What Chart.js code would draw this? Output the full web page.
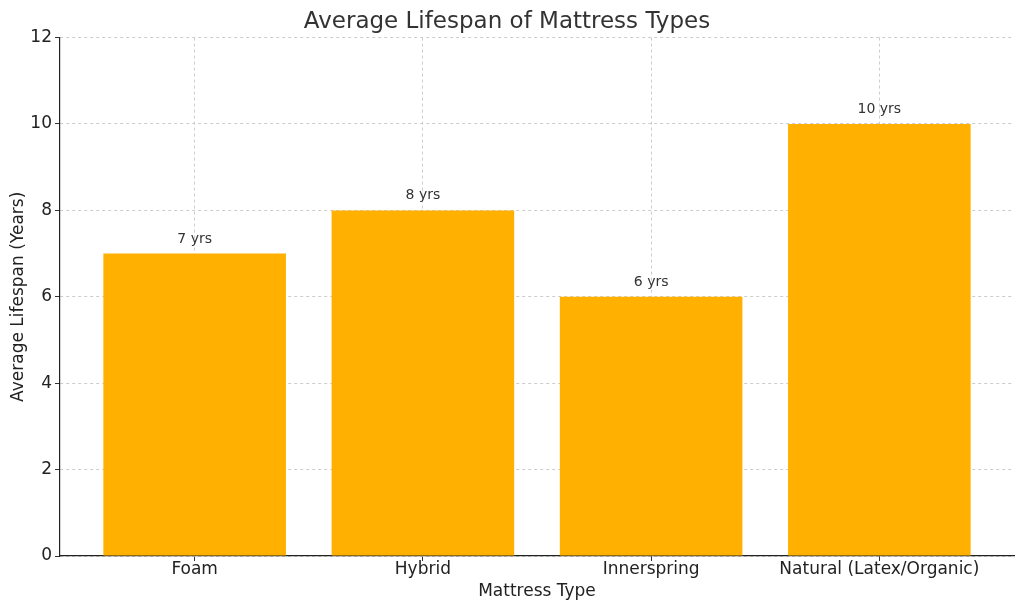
<!DOCTYPE html>
<html>
<head>
<meta charset="utf-8">
<script src="https://cdn.jsdelivr.net/npm/chart.js@4"></script>
<style>
  html, body { margin: 0; padding: 0; background: #fff; }
  #wrap { width: 1024px; height: 611px; }
</style>
</head>
<body>
<div id="wrap"><canvas id="chart"></canvas></div>
<script>
// data
const mattressTypes = ["Foam", "Hybrid", "Innerspring", "Natural (Latex/Organic)"];
const lifespanYears = [7, 8, 6, 10];
const barLabels = ["7 yrs", "8 yrs", "6 yrs", "10 yrs"];
const yTicks = [0, 2, 4, 6, 8, 10, 12];

const FONT = "'DejaVu Sans', sans-serif";

// text above each bar, placed through the y scale
const barTextPlugin = {
    id: 'barText',
    afterDatasetsDraw (chart) {
        const ctx = chart.ctx;
        const xs = chart.scales.x, ys = chart.scales.y;
        ctx.save();
        ctx.font = "14px " + FONT;
        ctx.fillStyle = '#333';
        ctx.textAlign = 'center';
        ctx.textBaseline = 'bottom';
        lifespanYears.forEach((v, i) => {
            ctx.fillText(barLabels[i], xs.getPixelForValue(i), ys.getPixelForValue(v + 0.2) + 1);
        });
        ctx.restore();
    }
};

const gridOpts = {
    color: '#cccccc',
    lineWidth: 1,
    tickColor: '#333',
    tickLength: 5,
    tickBorderDash: [],
    offset: false
};

new Chart(document.getElementById('chart'), {
    type: 'bar',
    data: {
        datasets: [{
            data: lifespanYears.map((v, i) => ({x: i, y: v})),
            backgroundColor: '#FFB000',
            borderWidth: 0,
            barPercentage: 0.8,
            categoryPercentage: 1
        }]
    },
    options: {
        responsive: true,
        maintainAspectRatio: false,
        animation: false,
        layout: { padding: { left: 0, right: 10, top: 0, bottom: 0 } },
        plugins: {
            legend: { display: false },
            tooltip: { enabled: false },
            title: {
                display: true,
                text: 'Average Lifespan of Mattress Types',
                color: '#333',
                font: { family: FONT, size: 23, weight: 'normal' },
                padding: { top: 8, bottom: 2 }
            }
        },
        scales: {
            x: {
                type: 'linear',
                min: -0.59,
                max: 3.59,
                offset: false,
                z: 1,
                afterFit (s) { s.height = 55; },
                afterBuildTicks (s) { s.ticks = mattressTypes.map((_, i) => ({value: i})); },
                ticks: {
                    callback: (v) => mattressTypes[v],
                    color: '#222',
                    font: { family: FONT, size: 17, lineHeight: 1 },
                    padding: 0,
                    maxRotation: 0,
                    autoSkip: false
                },
                grid: gridOpts,
                border: { color: '#222', width: 1.2, dash: [3, 3] },
                title: {
                    display: true,
                    text: 'Mattress Type',
                    color: '#222',
                    font: { family: FONT, size: 17 },
                    padding: { top: 0, bottom: 9 }
                }
            },
            y: {
                min: 0,
                max: 12,
                z: 1,
                afterFit (s) { s.width = 60; },
                afterBuildTicks (s) { s.ticks = yTicks.map(v => ({value: v})); },
                ticks: {
                    color: '#222',
                    font: { family: FONT, size: 17 },
                    padding: 3
                },
                grid: gridOpts,
                border: { color: '#222', width: 1.2, dash: [3, 3] },
                title: {
                    display: true,
                    text: 'Average Lifespan (Years)',
                    color: '#222',
                    font: { family: FONT, size: 17 },
                    padding: { top: 8, bottom: 0 }
                }
            }
        }
    },
    plugins: [barTextPlugin]
});
</script>
</body>
</html>
